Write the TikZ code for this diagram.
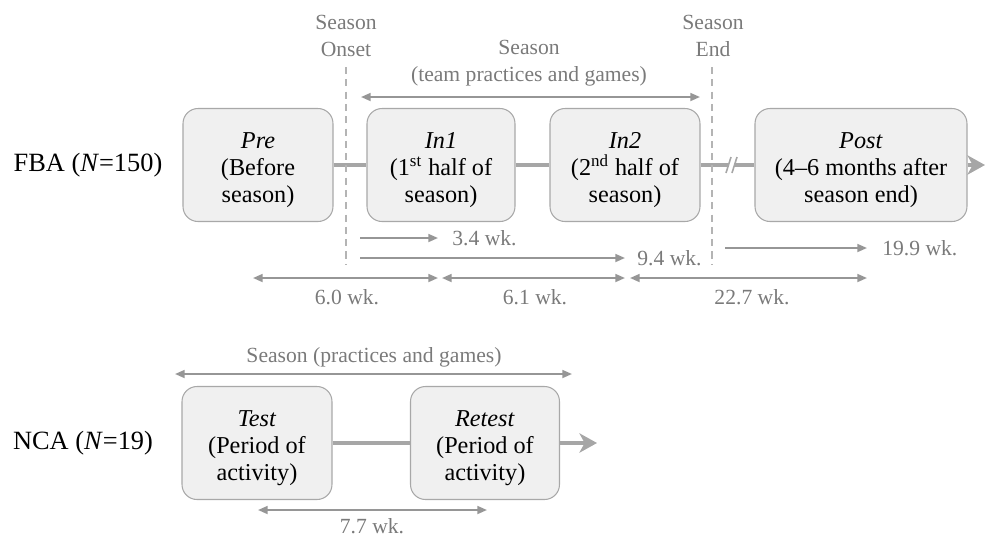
\documentclass[tikz,border=0pt]{standalone}
\usepackage{fontspec}
\setmainfont{Liberation Serif}
\usetikzlibrary{positioning,arrows.meta}
\definecolor{boxline}{HTML}{A8A8A8}
\definecolor{boxfill}{HTML}{F0F0F0}
\definecolor{linkgray}{HTML}{A6A6A6}
\definecolor{arrowgray}{HTML}{969696}
\definecolor{cutgray}{HTML}{B4B4B4}
\definecolor{txtgray}{HTML}{7A7A7A}
\newcommand{\topgap}{\rule{0pt}{15pt}}

\begin{document}
\begin{tikzpicture}[x=0.02cm, y=-0.02cm,
    phase/.style={rectangle, draw=boxline, fill=boxfill, rounded corners=8.5pt, line width=0.6pt, minimum width=3cm, minimum height=2.26cm, align=center, font=\rmfamily\fontsize{13.8}{15.5}\selectfont},
    group/.style={font=\fontsize{15}{18}\selectfont},
    note/.style={font=\fontsize{12.3}{15.5}\selectfont, text=txtgray, align=center},
    link/.style={draw=linkgray, line width=2.4pt},
    flow/.style={link, -{Stealth[length=10pt,width=11pt,inset=3pt]}},
    oneway/.style={draw=arrowgray, line width=1.1pt, -{Triangle[length=5.5pt,width=4.5pt]}},
    twoway/.style={draw=arrowgray, line width=1.1pt, {Triangle[length=5.5pt,width=4.5pt]}-{Triangle[length=5.5pt,width=4.5pt]}},
    cut/.style={draw=cutgray, line width=0.9pt, dash pattern=on 4pt off 3pt}
]
\useasboundingbox (0,0) rectangle (985,539);

% FBA row
\node[group] (fba) at (88,165) {FBA (\textit{N}=150)};
\node[phase] (pre) at (258,165) {\topgap\textit{Pre}\\(Before\\season)};
\node[phase, minimum width=2.96cm] (inone) at (441,165) {\topgap\textit{In1}\\(1\textsuperscript{st} half of\\season)};
\node[phase] (intwo) at (625,165) {\topgap\textit{In2}\\(2\textsuperscript{nd} half of\\season)};
\node[phase, minimum width=4.24cm] (post) at (861,165) {\topgap\textit{Post}\\(4--6 months after\\season end)};

\coordinate (brk) at (732,165);
\coordinate (fbaend) at (985,165);
\draw[link] (pre) -- (inone);
\draw[link] (inone) -- (intwo);
\draw[link] (intwo) -- (post);
\draw[flow] (post) -- (fbaend);
\begin{scope}[shift={(brk)}]
  \fill[white] (-6,8) -- (-1,-8) -- (5,-8) -- (0,8) -- cycle;
  \draw[linkgray, line width=0.9pt] (-6,8) -- (-1,-8);
  \draw[linkgray, line width=0.9pt] (0,8) -- (5,-8);
\end{scope}

% season markers
\node[note] (onset) at (346,36) {Season\\Onset};
\node[note] (endlbl) at (713,36) {Season\\End};
\node[note] (seasonlbl) at (529,63) {Season\\(team practices and games)};
\coordinate (onsettop) at (346,67);
\coordinate (onsetbot) at (346,265);
\coordinate (endtop) at (712,67);
\coordinate (endbot) at (712,265);
\draw[cut] (onsettop) -- (onsetbot);
\draw[cut] (endtop) -- (endbot);
\coordinate (sa) at (361,97);
\coordinate (sb) at (700,97);
\draw[twoway] (sa) -- (sb);

% intervals
\node[note, anchor=west, inner sep=0pt] (lbl34) at (452,238) {3.4 wk.};
\node[note, anchor=west, inner sep=0pt] (lbl94) at (637,258) {9.4 wk.};
\node[note, anchor=west, inner sep=0pt] (lbl199) at (882,248) {19.9 wk.};
\coordinate (s34) at (360,238);
\coordinate (e34) at (438,238);
\coordinate (s94) at (360,258);
\coordinate (e94) at (625,258);
\coordinate (s199) at (725,248);
\coordinate (e199) at (867,248);
\draw[oneway] (s34) -- (e34);
\draw[oneway] (s94) -- (e94);
\draw[oneway] (s199) -- (e199);

\coordinate (d0) at (253,278);
\coordinate (d1) at (438,278);
\coordinate (d2) at (442,278);
\coordinate (d3) at (625,278);
\coordinate (d4) at (630,278);
\coordinate (d5) at (867,278);
\draw[twoway] (d0) -- (d1);
\draw[twoway] (d2) -- (d3);
\draw[twoway] (d4) -- (d5);
\node[note] (lbl60) at (347,297) {6.0 wk.};
\node[note] (lbl61) at (535,297) {6.1 wk.};
\node[note] (lbl227) at (752,297) {22.7 wk.};

% NCA row
\node[note] (ncaseason) at (374,357) {Season (practices and games)};
\coordinate (na) at (175,374);
\coordinate (nb) at (572,374);
\draw[twoway] (na) -- (nb);
\node[group] (nca) at (83,443) {NCA (\textit{N}=19)};
\node[phase] (test) at (257,443) {\topgap\textit{Test}\\(Period of\\activity)};
\node[phase, minimum width=2.98cm] (retest) at (485,443) {\topgap\textit{Retest}\\(Period of\\activity)};
\coordinate (ncaend) at (597,443);
\draw[link] (test) -- (retest);
\draw[flow] (retest) -- (ncaend);
\coordinate (t0) at (258,510);
\coordinate (t1) at (487,510);
\draw[twoway] (t0) -- (t1);
\node[note, inner sep=1pt] (lbl77) at (372,526) {7.7 wk.};
\end{tikzpicture}
\end{document}
